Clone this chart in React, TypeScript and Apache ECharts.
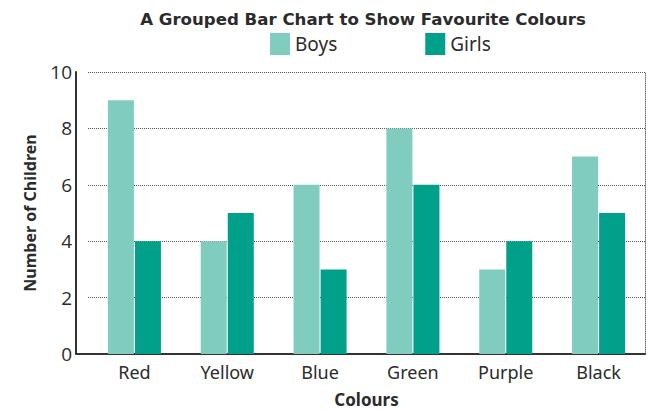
import React, { useEffect, useRef } from "react";
import * as echarts from "echarts";

const categories = ["Red", "Yellow", "Blue", "Green", "Purple", "Black"];
const boys = [9, 4, 6, 8, 3, 7];
const girls = [4, 5, 3, 6, 4, 5];
const seriesNames = ["Boys", "Girls"];
const titleText = "A Grouped Bar Chart to Show Favourite Colours";
const xName = "Colours";
const yName = "Number of Children";

export default function App() {
  const ref = useRef<HTMLDivElement>(null);
  useEffect(() => {
    if (!ref.current) return;
    const chart = echarts.init(ref.current, null, { renderer: "svg" });
    const font = "Noto Sans";
    chart.setOption({
      animation: false,
      backgroundColor: "#ffffff",
      title: {
        text: titleText,
        left: 358,
        textAlign: "center",
        top: 6,
        textStyle: { fontFamily: "DejaVu Sans", fontWeight: "bold", fontSize: 16.6, color: "#2b2b2b" },
      },
      legend: {
        data: seriesNames,
        left: 270,
        top: 33,
        padding: 0,
        itemWidth: 20,
        itemHeight: 22,
        itemGap: 88,
        icon: "rect",
        textStyle: { fontFamily: font, fontSize: 19, color: "#2b2b2b" },
      },
      grid: { left: 88, right: 7, top: 72, bottom: 57, containLabel: false, outerBoundsMode: "none" },
      xAxis: {
        type: "category",
        data: categories,
        name: xName,
        nameLocation: "middle",
        nameGap: 37,
        nameTextStyle: { fontFamily: font, fontWeight: "bold", fontSize: 17, color: "#2b2b2b" },
        axisLine: { lineStyle: { color: "#333333", width: 2 } },
        axisTick: { show: false },
        axisLabel: { fontFamily: font, fontSize: 18, color: "#2b2b2b", margin: 9 },
      },
      yAxis: [
        {
          type: "value",
          min: 0,
          max: 10,
          interval: 2,
          offset: 12,
          name: yName,
          nameLocation: "middle",
          nameGap: 38,
          nameRotate: 90,
          nameTextStyle: { fontFamily: font, fontWeight: "bold", fontSize: 16, color: "#2b2b2b" },
          axisLine: { show: true, lineStyle: { color: "#333333", width: 2 } },
          axisTick: { show: false },
          axisLabel: { fontFamily: "Open Sans", fontSize: 19, color: "#2b2b2b", margin: 4 },
          splitLine: { show: true, lineStyle: { type: "dotted", color: "#555555", width: 1 } },
        },
        {
          type: "value",
          min: 0,
          max: 10,
          interval: 2,
          position: "right",
          offset: 0,
          axisLine: { show: true, lineStyle: { type: "dotted", color: "#777777", width: 1 } },
          axisTick: { show: false },
          axisLabel: { show: false },
          splitLine: { show: false },
        },
      ],
      graphic: [
        {
          type: "line",
          shape: { x1: 76, y1: 354, x2: 89, y2: 354 },
          style: { stroke: "#333333", lineWidth: 2 },
        },
      ],
      series: [
        {
          name: seriesNames[0],
          type: "bar",
          data: boys,
          barWidth: 26,
          barGap: "4%",
          itemStyle: { color: "#80CDC0" },
        },
        {
          name: seriesNames[1],
          type: "bar",
          data: girls,
          barWidth: 26,
          itemStyle: { color: "#00A08B" },
        },
      ],
    });
    return () => chart.dispose();
  }, []);
  return <div ref={ref} style={{ position: "fixed", left: 0, top: 0, width: 652, height: 411 }} />;
}
